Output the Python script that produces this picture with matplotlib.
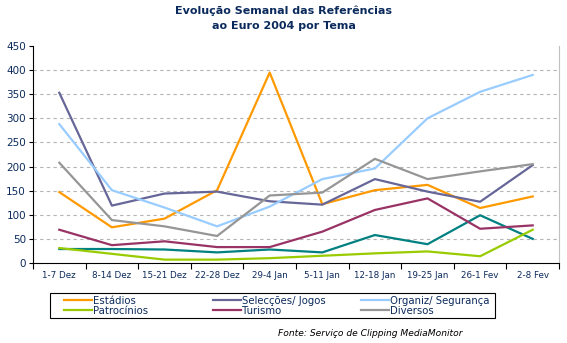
import numpy as np
import matplotlib.pyplot as plt
from matplotlib.patches import Rectangle

# --- Weekly references per theme ---
weeks = ['1-7 Dez', '8-14 Dez', '15-21 Dez', '22-28 Dez', '29-4 Jan',
         '5-11 Jan', '12-18 Jan', '19-25 Jan', '26-1 Fev', '2-8 Fev']

estadios = [147, 74, 92, 151, 395, 122, 151, 162, 114, 138]
seleccoes = [353, 119, 144, 148, 128, 121, 174, 148, 127, 203]
organiz = [288, 151, 115, 76, 117, 174, 196, 300, 355, 390]
patrocinios = [31, 19, 7, 7, 10, 15, 20, 24, 14, 69]
turismo = [69, 37, 45, 33, 33, 65, 110, 134, 71, 78]
diversos = [208, 89, 76, 56, 140, 146, 216, 174, 190, 205]
outros = [29, 29, 28, 22, 28, 22, 58, 39, 99, 50]

NAVY = '#0b2a5c'

plt.rcParams['font.family'] = 'DejaVu Sans'

fig = plt.figure(figsize=(5.67, 3.43), dpi=100)
ax = fig.add_axes([33 / 567, 80 / 343, 526 / 567, 217 / 343])

x = np.arange(len(weeks))
series = [
    ('Estádios', estadios, '#FF9900'),
    ('Selecções/ Jogos', seleccoes, '#666699'),
    ('Organiz/ Segurança', organiz, '#99CCFF'),
    ('Patrocínios', patrocinios, '#99CC00'),
    ('Turismo', turismo, '#993366'),
    ('Diversos', diversos, '#969696'),
]
lines = {}
ax.plot(x, outros, color='#008080', lw=1.6, zorder=2)
for name, vals, col in series:
    lines[name], = ax.plot(x, vals, color=col, lw=1.6, label=name, zorder=3)

ax.set_xlim(-0.5, len(weeks) - 0.5)
ax.set_ylim(0, 450)
ax.set_yticks(np.arange(0, 451, 50))
ax.set_xticks(np.arange(-0.5, len(weeks)), minor=False)
ax.set_xticklabels([])
ax.set_xticks(x, minor=True)
ax.set_xticklabels(weeks, minor=True)
ax.tick_params(axis='x', which='minor', length=0, pad=6, labelsize=6.3, labelcolor=NAVY)
ax.tick_params(axis='x', which='major', length=4, direction='out', color='black')
ax.tick_params(axis='y', length=3, direction='out', labelsize=7.5, labelcolor=NAVY, pad=2)

ax.yaxis.grid(True, color='#b4b4b4', linestyle=(0, (3, 3)), lw=0.8)
ax.get_ygridlines()[-1].set_visible(False)
ax.get_ygridlines()[0].set_visible(False)
ax.set_axisbelow(True)

ax.spines['top'].set_visible(False)
ax.spines['right'].set_color('#c0c0c0')
ax.spines['left'].set_color('black')
ax.spines['bottom'].set_color('black')

fig.text(0.5, 1 - 5 / 343, 'Evolução Semanal das Referências\nao Euro 2004 por Tema',
         ha='center', va='top', fontsize=8, fontweight='bold', color=NAVY,
         linespacing=1.65)

# legend: a framed box with three two-row columns
fig.patches.append(Rectangle((50 / 567, 25 / 343), 445 / 567, 25 / 343,
                             transform=fig.transFigure, fill=False,
                             edgecolor='black', lw=0.8))
columns = [('Estádios', 'Patrocínios', 64),
           ('Selecções/ Jogos', 'Turismo', 213),
           ('Organiz/ Segurança', 'Diversos', 361)]
for top, bottom, left in columns:
    leg = fig.legend([lines[top], lines[bottom]], [top, bottom],
                     loc='center left', bbox_to_anchor=(left / 567, 37.5 / 343),
                     fontsize=7.3, frameon=False, borderpad=0, labelspacing=0.0,
                     handlelength=2.8, handletextpad=0.1, borderaxespad=0)
    for t in leg.get_texts():
        t.set_color(NAVY)

fig.text(463 / 567, 1 - 333 / 343, 'Fonte: Serviço de Clipping MediaMonitor',
         ha='right', va='center', fontsize=6.6, style='italic', color='black')

fig.savefig('out.png', dpi=100)
